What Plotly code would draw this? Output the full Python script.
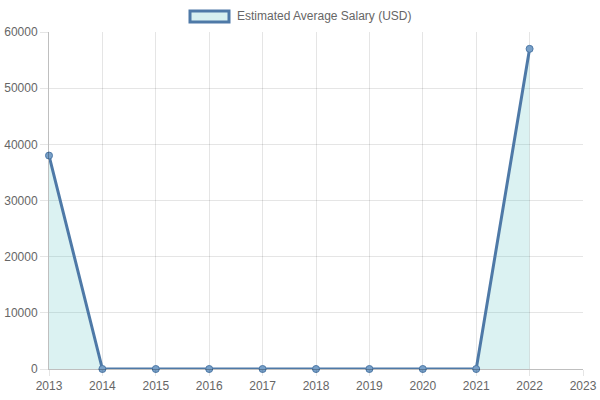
import plotly.graph_objects as go

years = [2013, 2014, 2015, 2016, 2017, 2018, 2019, 2020, 2021, 2022]
salary = [38000, 0, 0, 0, 0, 0, 0, 0, 0, 57000]
series_name = "Estimated Average Salary (USD)"

line_color = "rgb(78,121,167)"
fill_color = "rgba(75,192,192,0.2)"
grid_color = "rgba(0,0,0,0.1)"

fig = go.Figure()
fig.add_trace(go.Scatter(
    x=years, y=salary,
    mode="lines+markers",
    fill="tozeroy",
    fillcolor=fill_color,
    line=dict(color=line_color, width=3),
    marker=dict(size=7, color="rgba(120,160,200,1)", line=dict(color=line_color, width=1)),
    name=series_name,
    showlegend=False,
    cliponaxis=False,
))

# legend drawn by hand to look like the chart.js box
fig.add_shape(type="rect", xref="paper", yref="paper",
              x0=(190 - 49) / 534, x1=(229 - 49) / 534,
              y0=(369 - 11) / 337, y1=(369 - 22) / 337,
              line=dict(color=line_color, width=3),
              fillcolor="rgba(215,240,240,1)")
fig.add_annotation(text=series_name, xref="paper", yref="paper",
                   x=(235 - 49) / 534, y=(369 - 16) / 337,
                   xanchor="left", yanchor="middle", showarrow=False,
                   font=dict(size=12, color="#666"))

fig.update_xaxes(range=[2013, 2023], dtick=1, tick0=2013,
                 showgrid=True, gridcolor=grid_color, gridwidth=1,
                 ticks="outside", ticklen=6, tickcolor=grid_color,
                 showline=True, linecolor="rgba(0,0,0,0.25)", linewidth=1,
                 zeroline=False, automargin=False,
                 tickfont=dict(size=12, color="#666"))
fig.update_yaxes(range=[0, 60000], dtick=10000, tickformat="d",
                 showgrid=True, gridcolor=grid_color, gridwidth=1,
                 ticks="outside", ticklen=8, tickcolor=grid_color,
                 showline=True, linecolor="rgba(0,0,0,0.25)", linewidth=1,
                 zeroline=False, automargin=False,
                 tickfont=dict(size=12, color="#666"))

fig.update_layout(
    width=600, height=400,
    margin=dict(l=49, r=17, t=32, b=31),
    paper_bgcolor="white", plot_bgcolor="white",
    font=dict(family="Liberation Sans, Arial, sans-serif", size=12, color="#666"),
)

# drop the default 8px page margin so the figure fills the window
fig.write_html("out.html", config={"displayModeBar": False},
               post_script="document.body.style.margin='0';")
